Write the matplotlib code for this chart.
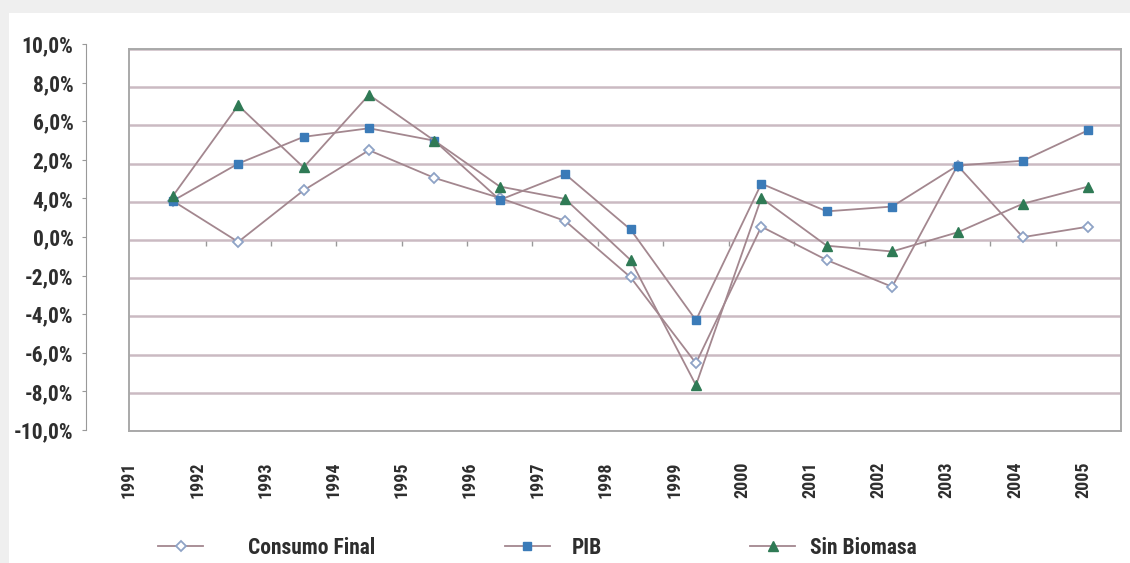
import numpy as np
import matplotlib.pyplot as plt
from matplotlib import font_manager
from matplotlib.patches import Rectangle
from matplotlib.lines import Line2D

years = [str(y) for y in range(1991, 2006)]
consumo_final = [2.05, -0.1, 2.6, 4.7, 3.25, 2.2, 1.0, -1.95, -6.45, 0.7, -1.05, -2.45, 3.9, 0.15, 0.7]
pib = [2.05, 4.0, 5.4, 5.85, 5.2, 2.1, 3.45, 0.55, -4.2, 2.95, 1.5, 1.75, 3.9, 4.15, 5.75]
sin_biomasa = [2.3, 7.05, 3.8, 7.6, 5.2, 2.8, 2.15, -1.05, -7.6, 2.2, -0.3, -0.6, 0.4, 1.9, 2.8]

ytick_values = np.arange(10, -11, -2)
ytick_labels = ['10,0%', '8,0%', '6,0%', '2,0%', '4,0%', '0,0%',
                '-2,0%', '-4,0%', '-6,0%', '-8,0%', '-10,0%']

# narrow bold face if one is installed, else plain DejaVu with smaller sizes
installed = {f.name for f in font_manager.fontManager.ttflist}
narrow = [n for n in ['Liberation Sans Narrow', 'DejaVu Sans Condensed', 'Roboto Condensed',
                      'Open Sans Condensed', 'Noto Sans Condensed'] if n in installed]
if narrow:
    plt.rcParams['font.family'] = [narrow[0], 'DejaVu Sans']
    fs_y, fs_x, fs_leg = 15.5, 13, 15.5
else:
    plt.rcParams['font.family'] = ['DejaVu Sans']
    plt.rcParams['font.stretch'] = 'condensed'
    fs_y, fs_x, fs_leg = 11, 9, 11
plt.rcParams['font.weight'] = 'bold'

W, H = 1130, 563
TEXT = '#2e2e2e'
LINE = '#a3878f'
GRID = '#cbbac2'
FRAME = '#a9a9a9'


def frac(x0, y0, x1, y1):
    # pixel box (top-left origin) -> figure fraction rect
    return [x0 / W, 1 - y1 / H, (x1 - x0) / W, (y1 - y0) / H]


fig = plt.figure(figsize=(W / 100, H / 100), dpi=100)
fig.patch.set_facecolor('#efefef')
fig.patches.append(Rectangle((9 / W, 0), 1, 1 - 13 / H, transform=fig.transFigure,
                             facecolor='white', edgecolor='none', zorder=-10))

ax = fig.add_axes(frac(129, 49, 1121, 431))
x = np.arange(len(years))

styles = {
    'Consumo Final': dict(marker='D', ms=5.5, mfc='white', mec='#8ea3c6', mew=1.3),
    'PIB': dict(marker='s', ms=6, mfc='#3b7bb8', mec='#3b7bb8'),
    'Sin Biomasa': dict(marker='^', ms=6.5, mfc='#2f7a55', mec='#2f7a55'),
}
series = {'Consumo Final': consumo_final, 'PIB': pib, 'Sin Biomasa': sin_biomasa}
for name, vals in series.items():
    ax.plot(x, vals, color=LINE, lw=1.3, zorder=3, **styles[name])

ax.set_xlim(-0.5, len(years) - 0.5)
ax.set_ylim(-10, 10)
ax.set_yticks(ytick_values)
ax.yaxis.grid(True, color=GRID, lw=1.8)
ax.set_axisbelow(True)
ax.tick_params(axis='y', left=False, labelleft=False)
for s in ax.spines.values():
    s.set_color(FRAME)
    s.set_linewidth(1.4)

# year labels sit on their own spacing in the original
label_pos = np.linspace(-0.67, 13.92, len(years))
ax.set_xticks(label_pos, years, rotation=90, fontsize=fs_x, color=TEXT)
ax.tick_params(axis='x', length=0, pad=22)

# category ticks on the zero line
sec = ax.secondary_xaxis(0.5)
sec.set_xticks(x[:-1] + 0.5, labels=[])
sec.tick_params(direction='in', length=4, color='#999999', width=1)
for s in sec.spines.values():
    s.set_visible(False)

# separate value axis on the left
lax = fig.add_axes(frac(86, 44, 87, 430))
lax.set_facecolor('none')
lax.set_ylim(-10, 10)
lax.set_yticks(ytick_values, ytick_labels, fontsize=fs_y, color=TEXT)
lax.set_xticks([])
for k, s in lax.spines.items():
    s.set_visible(k == 'left')
lax.spines['left'].set_color('#999999')
lax.tick_params(axis='y', length=3, color='#999999', pad=6)

# legend entries
legend_spec = [('Consumo Final', 158, 45), ('PIB', 505, 22), ('Sin Biomasa', 750, 15)]
for name, px, gap in legend_spec:
    h = Line2D([], [], color=LINE, lw=1.3, **styles[name])
    em = fs_leg * 100 / 72
    fig.legend(handles=[h], labels=[name], loc='center left',
               bbox_to_anchor=(px / W, 1 - 548 / H), frameon=False,
               fontsize=fs_leg, handlelength=45 / em, handletextpad=gap / em,
               borderpad=0, borderaxespad=0, labelcolor=TEXT)

fig.savefig('out.png', dpi=100, facecolor=fig.get_facecolor())
